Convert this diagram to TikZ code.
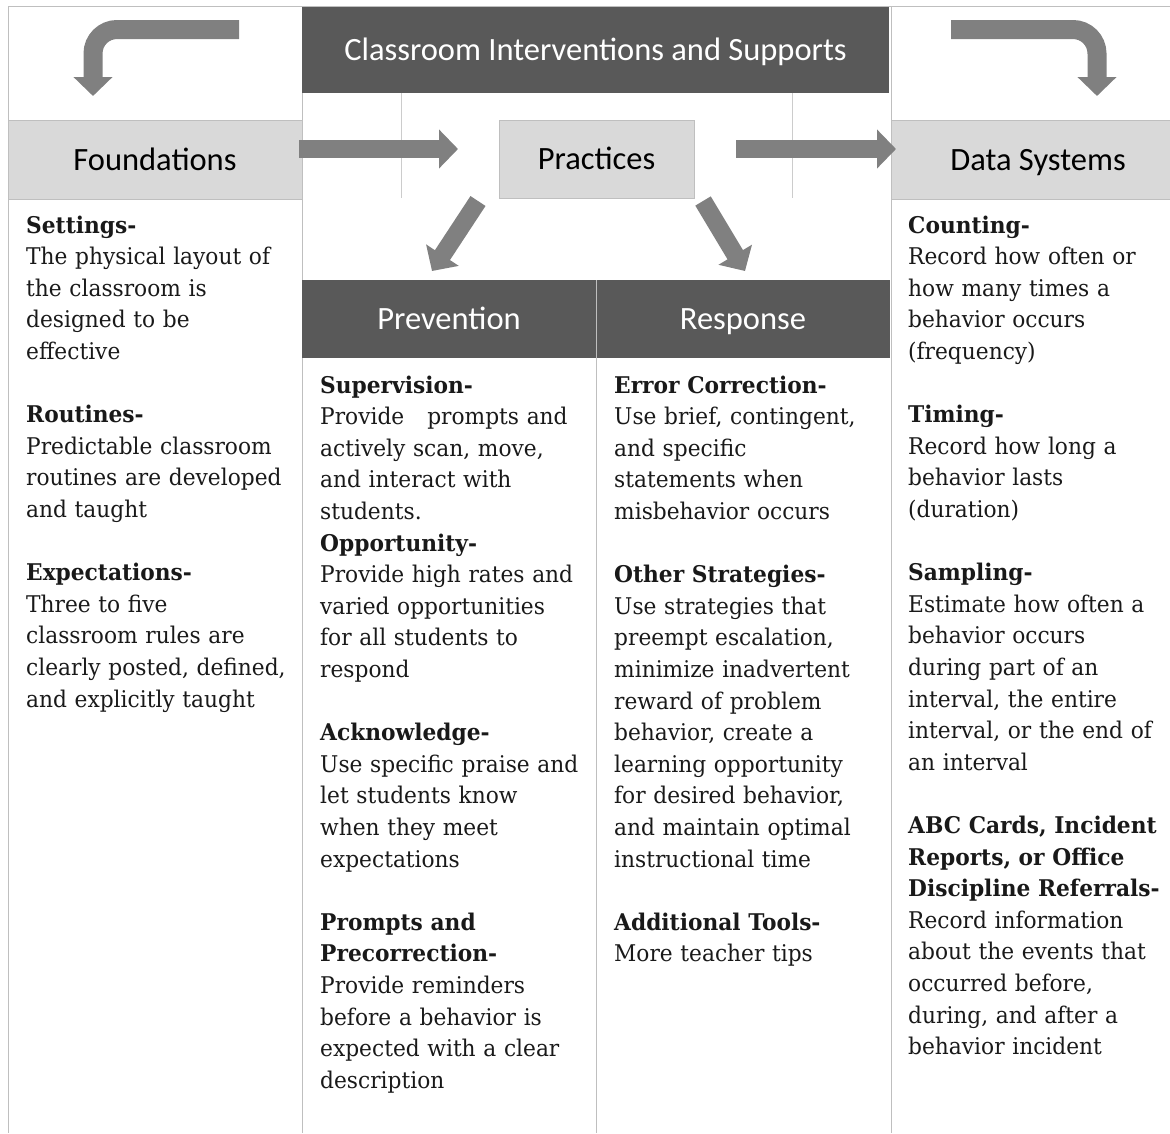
\documentclass[tikz,border=0pt]{standalone}
\usepackage{fontspec}
\setmainfont{DejaVu Serif}[FakeStretch=0.945]
\newfontfamily\hdrfont{Carlito}
\usepackage{tikz}
\usetikzlibrary{arrows.meta}
\definecolor{darkhdr}{RGB}{89,89,89}
\definecolor{lighthdr}{RGB}{217,217,217}
\definecolor{arrowgray}{RGB}{128,128,128}
\definecolor{linegray}{RGB}{191,191,191}
\tikzset{
    hdrdark/.style = {rectangle, fill=darkhdr, inner sep=0, text height=24pt, text depth=3pt, align=center, font=\hdrfont\fontsize{32.5}{36}\selectfont, text=white},
    hdrlight/.style = {rectangle, fill=lighthdr, draw=linegray, line width=1pt, inner sep=0, text height=24pt, text depth=3pt, align=center, font=\hdrfont\fontsize{32.5}{36}\selectfont, text=black},
    bodytxt/.style = {anchor=base west, inner sep=0, text width=300pt, align=left, font=\fontsize{23}{31.6}\selectfont, text=black!90},
    gridline/.style = {-, line width=1pt, linegray},
    thinline/.style = {-, line width=0.6pt, linegray!80},
    bigarrow/.style = {draw=arrowgray, line width=18pt, -{Triangle[length=19pt,width=38pt]}}
}

\begin{document}
\begin{tikzpicture}[x=1pt,y=-1pt]
\useasboundingbox (0,0) rectangle (1170,1133);
\clip (0,0) rectangle (1170,1133);

% table rules
\draw[gridline] (8,6) -- (1170,6);
\draw[gridline] (8,6) -- (8,1133);
\draw[gridline] (302,6) -- (302,1133);
\draw[gridline] (891,6) -- (891,1133);
\draw[thinline] (401,93) -- (401,198);
\draw[thinline] (792,93) -- (792,198);

\node[hdrdark, minimum width=587pt, minimum height=86pt] at (595.5, 50) (title) {Classroom Interventions and Supports};
\node[hdrlight, minimum width=294pt, minimum height=79pt] at (155, 159.5) (found) {Foundations};
\node[hdrlight, minimum width=195pt, minimum height=78pt] at (596.5, 159) (prac) {Practices};
\node[hdrlight, minimum width=294pt, minimum height=79pt] at (1038, 159.5) (data) {Data Systems};
\node[hdrdark, minimum width=294pt, minimum height=78pt] at (449, 319) (prev) {Prevention};
\node[hdrdark, minimum width=294pt, minimum height=78pt] at (743, 319) (resp) {Response};
\draw[gridline] (596.5,280) -- (596.5,1133);

% arrow ends
\coordinate (tl0) at (239,29.5);
\coordinate (tl1) at (93,96);
\coordinate (tr0) at (951,29.5);
\coordinate (tr1) at (1097,96);
\coordinate (fp0) at (299,149);
\coordinate (fp1) at (458,149);
\coordinate (pd0) at (736,149);
\coordinate (pd1) at (896,149);
\coordinate (pl0) at (478,201);
\coordinate (pl1) at (432,271);
\coordinate (pr0) at (703,201);
\coordinate (pr1) at (745,271);

\draw[bigarrow, line width=19pt, rounded corners=24pt] (tl0) -| (tl1);
\draw[bigarrow, line width=19pt, rounded corners=24pt] (tr0) -| (tr1);
\draw[bigarrow] (fp0) -- (fp1);
\draw[bigarrow] (pd0) -- (pd1);
\draw[bigarrow] (pl0) -- (pl1);
\draw[bigarrow] (pr0) -- (pr1);

\node[bodytxt] at (26, 233) (foundtxt) {\textbf{Settings-}\\
The physical layout of\\
the classroom is\\
designed to be\\
effective\\[31.6pt]
\textbf{Routines-}\\
Predictable classroom\\
routines are developed\\
and taught\\[31.6pt]
\textbf{Expectations-}\\
Three to five\\
classroom rules are\\
clearly posted, defined,\\
and explicitly taught};

\node[bodytxt] at (320, 393) (prevtxt) {\textbf{Supervision-}\\
Provide \ \ prompts and\\
actively scan, move,\\
and interact with\\
students.\\
\textbf{Opportunity-}\\
Provide high rates and\\
varied opportunities\\
for all students to\\
respond\\[31.6pt]
\textbf{Acknowledge-}\\
Use specific praise and\\
let students know\\
when they meet\\
expectations\\[31.6pt]
\textbf{Prompts and}\\
\textbf{Precorrection-}\\
Provide reminders\\
before a behavior is\\
expected with a clear\\
description};

\node[bodytxt] at (614, 393) (resptxt) {\textbf{Error Correction-}\\
Use brief, contingent,\\
and specific\\
statements when\\
misbehavior occurs\\[31.6pt]
\textbf{Other Strategies-}\\
Use strategies that\\
preempt escalation,\\
minimize inadvertent\\
reward of problem\\
behavior, create a\\
learning opportunity\\
for desired behavior,\\
and maintain optimal\\
instructional time\\[31.6pt]
\textbf{Additional Tools-}\\
More teacher tips};

\node[bodytxt] at (908, 233) (datatxt) {\textbf{Counting-}\\
Record how often or\\
how many times a\\
behavior occurs\\
(frequency)\\[31.6pt]
\textbf{Timing-}\\
Record how long a\\
behavior lasts\\
(duration)\\[31.6pt]
\textbf{Sampling-}\\
Estimate how often a\\
behavior occurs\\
during part of an\\
interval, the entire\\
interval, or the end of\\
an interval\\[31.6pt]
\textbf{ABC Cards, Incident}\\
\textbf{Reports, or Office}\\
\textbf{Discipline Referrals-}\\
Record information\\
about the events that\\
occurred before,\\
during, and after a\\
behavior incident};

\end{tikzpicture}
\end{document}
